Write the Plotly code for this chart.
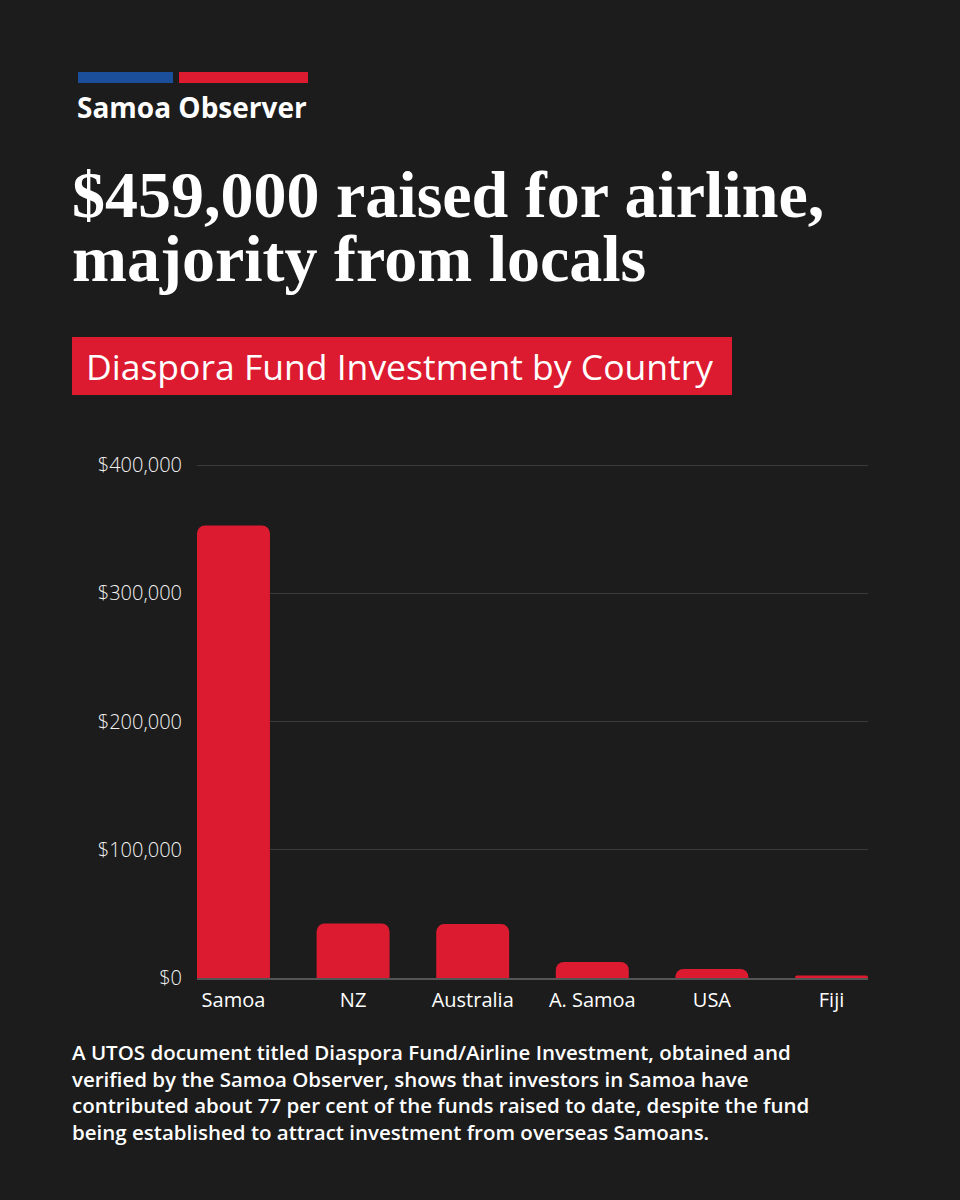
import plotly.graph_objects as go

# values
countries = ["Samoa", "NZ", "Australia", "A. Samoa", "USA", "Fiji"]
invested = [353000, 42600, 42100, 12500, 7000, 2000]
y_ticks = [0, 100000, 200000, 300000, 400000]
y_labels = [f"${v:,}" for v in y_ticks]

footer_lines = [
    "A UTOS document titled Diaspora Fund/Airline Investment, obtained and",
    "verified by the Samoa Observer, shows that investors in Samoa have",
    "contributed about 77 per cent of the funds raised to date, despite the fund",
    "being established to attract investment from overseas Samoans.",
]

BG = "#1c1c1c"
RED = "#dc1a30"
BLUE = "#1b4f9c"
SANS = "Open Sans, Roboto, sans-serif"
SERIF = "Liberation Serif, DejaVu Serif, serif"

W, H = 960, 1200
L, R, T, B = 197, 92, 464, 222


def px_x(p):
    return (p - L) / (W - L - R)


def px_y(p):
    return (H - B - p) / (H - T - B)


fig = go.Figure()
fig.add_trace(go.Bar(
    x=countries,
    y=invested,
    marker=dict(color=RED, cornerradius=8, line=dict(width=0)),
    hoverinfo="x+y",
))

shapes = [
    # logo bars
    dict(type="rect", x0=px_x(78), x1=px_x(173), y0=px_y(72), y1=px_y(83),
         fillcolor=BLUE),
    dict(type="rect", x0=px_x(179), x1=px_x(308), y0=px_y(72), y1=px_y(83),
         fillcolor=RED),
    # subtitle box
    dict(type="rect", x0=px_x(72), x1=px_x(732), y0=px_y(337), y1=px_y(395),
         fillcolor=RED),
]
for s in shapes:
    s.update(xref="paper", yref="paper", line=dict(width=0), layer="below")


def note(text, x, y, size, family=SANS, weight="normal", anchor="middle"):
    return dict(text=text, x=px_x(x), y=px_y(y), xref="paper", yref="paper",
                xanchor="left", yanchor=anchor, showarrow=False, align="left",
                font=dict(family=family, size=size, color="white", weight=weight))


annotations = [
    note("Samoa Observer", 75, 107, 28, weight="bold"),
    note("$459,000 raised for airline,", 70, 194, 66, family=SERIF, weight="bold"),
    note("majority from locals", 70, 258, 66, family=SERIF, weight="bold"),
    note("Diaspora Fund Investment by Country", 84, 366, 35.5),
    note("<br>".join(footer_lines), 70, 1092, 20.5, weight=600),
]

fig.update_layout(
    width=W, height=H,
    margin=dict(l=L, r=R, t=T, b=B, pad=0),
    paper_bgcolor=BG, plot_bgcolor=BG,
    bargap=0.39,
    showlegend=False,
    shapes=shapes,
    annotations=annotations,
    xaxis=dict(
        type="category",
        range=[-0.305, 5.305],
        showgrid=False,
        showline=True, linecolor="#555555", linewidth=1.5,
        ticks="",
        ticklabelstandoff=3,
        tickfont=dict(family=SANS, size=20, color="white"),
    ),
    yaxis=dict(
        range=[0, 401000],
        tickmode="array", tickvals=y_ticks, ticktext=y_labels,
        showgrid=True, gridcolor="#3a3a3a", gridwidth=1,
        zeroline=False, showline=False,
        ticks="",
        ticklabelstandoff=14,
        tickfont=dict(family=SANS, size=20, color="#f2f2f2", weight=300),
    ),
)

fig.write_html("out.html", config={"displayModeBar": False},
               post_script="document.body.style.margin='0';")
